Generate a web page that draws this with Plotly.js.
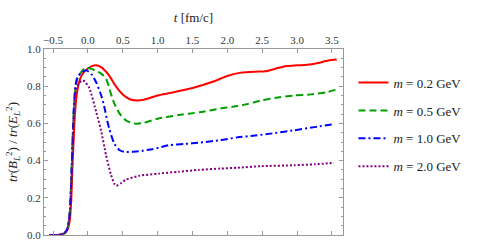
<!DOCTYPE html>
<html>
<head>
<meta charset="utf-8">
<script src="https://cdn.plot.ly/plotly-3.0.1.min.js"></script>
<style>html,body{margin:0;padding:0;background:#fff;}#chart{width:478px;height:252px;}</style>
</head>
<body>
<div id="chart"></div>
<script>
const seriesNames = ["<i>m</i> = 0.2 GeV", "<i>m</i> = 0.5 GeV", "<i>m</i> = 1.0 GeV", "<i>m</i> = 2.0 GeV"];

const tRed = [-0.55,-0.45,-0.38,-0.33,-0.29,-0.26,-0.24,-0.22,-0.2,-0.18,-0.15,-0.1,-0.05,0,0.05,0.12,0.2,0.3,0.4,0.5,0.6,0.7,0.8,1.0,1.2,1.5,1.8,2.0,2.2,2.4,2.55,2.7,2.8,3.0,3.15,3.3,3.45,3.57];
const vRed = [0,0,0.003,0.01,0.03,0.08,0.18,0.38,0.55,0.68,0.78,0.85,0.88,0.895,0.907,0.913,0.9,0.86,0.8,0.755,0.73,0.723,0.727,0.75,0.765,0.79,0.825,0.855,0.873,0.878,0.88,0.895,0.905,0.912,0.915,0.925,0.938,0.943];

const tGreen = [-0.55,-0.45,-0.38,-0.33,-0.29,-0.26,-0.24,-0.22,-0.2,-0.18,-0.15,-0.1,-0.05,0,0.05,0.1,0.2,0.26,0.3,0.35,0.4,0.45,0.55,0.69,0.8,1.0,1.3,1.6,1.9,2.15,2.3,2.5,2.7,2.96,3.2,3.43,3.57];
const vGreen = [0,0,0.003,0.012,0.04,0.12,0.28,0.5,0.68,0.78,0.84,0.875,0.895,0.898,0.893,0.885,0.865,0.84,0.8,0.735,0.69,0.655,0.615,0.598,0.603,0.625,0.645,0.66,0.68,0.693,0.705,0.725,0.738,0.75,0.756,0.768,0.782];

const tBlue = [-0.55,-0.45,-0.38,-0.33,-0.29,-0.26,-0.24,-0.22,-0.2,-0.18,-0.15,-0.1,-0.05,-0.02,0.05,0.12,0.2,0.24,0.28,0.31,0.38,0.45,0.52,0.65,0.73,0.9,1.02,1.16,1.4,1.59,1.9,2.15,2.4,2.62,2.96,3.25,3.5];
const vBlue = [0,0,0.003,0.012,0.04,0.12,0.28,0.5,0.7,0.8,0.85,0.87,0.882,0.885,0.865,0.82,0.74,0.68,0.61,0.567,0.49,0.457,0.447,0.448,0.45,0.46,0.469,0.483,0.49,0.496,0.51,0.525,0.535,0.545,0.563,0.58,0.594];

const tPurple = [-0.55,-0.45,-0.38,-0.33,-0.29,-0.26,-0.24,-0.22,-0.2,-0.18,-0.15,-0.12,-0.08,-0.05,0.02,0.12,0.19,0.26,0.33,0.38,0.41,0.48,0.55,0.73,1.02,1.3,1.59,1.9,2.15,2.49,2.96,3.25,3.53];
const vPurple = [0,0,0.003,0.012,0.04,0.12,0.28,0.5,0.68,0.76,0.8,0.82,0.83,0.827,0.79,0.66,0.56,0.43,0.325,0.275,0.265,0.28,0.298,0.318,0.33,0.34,0.35,0.357,0.362,0.37,0.375,0.38,0.388];

const xTickVals = [-0.5,0,0.5,1,1.5,2,2.5,3,3.5];
const yTickVals = [0,0.2,0.4,0.6,0.8,1.0];

const FONT = '"Liberation Serif", "DejaVu Serif", serif';
const mk = (x, y, name, color, dash, width, g) => ({
  x: x, y: y, name: name, type: 'scatter', mode: 'lines', legendgroup: g,
  line: {color: color, dash: dash, width: width, shape: 'spline', smoothing: 0.6}
});

const traces = [
  mk(tRed, vRed, seriesNames[0], '#ff0000', 'solid', 2, 'a'),
  mk(tGreen, vGreen, seriesNames[1], '#00a000', '7px,4px', 2, 'b'),
  mk(tBlue, vBlue, seriesNames[2], '#0000ff', '7px,3px,2px,3px', 2, 'c'),
  mk(tPurple, vPurple, seriesNames[3], '#800080', '2px,2px', 2, 'd')
];

const layout = {
  width: 478, height: 252,
  margin: {l: 44, r: 132, t: 49, b: 17},
  paper_bgcolor: '#fff', plot_bgcolor: '#fff',
  font: {family: FONT, size: 11, color: '#333'},
  showlegend: true,
  legend: {x: 1.035, y: 0.9, xanchor: 'left', yanchor: 'top', font: {family: FONT, size: 13, color: '#222'},
           tracegroupgap: 8, bgcolor: 'rgba(0,0,0,0)'},
  xaxis: {
    side: 'top', range: [-0.63, 3.66], tickvals: xTickVals, tickformat: '.1f',
    showgrid: false, zeroline: false, showline: true, linecolor: '#999', linewidth: 1, mirror: 'ticks',
    ticks: 'inside', ticklen: 4, tickcolor: '#999',
    tickfont: {family: FONT, size: 11, color: '#333'},
    title: {text: '<i>t</i> [fm/c]', font: {family: FONT, size: 13, color: '#222'}, standoff: 8}
  },
  yaxis: {
    range: [0, 1.0], tickvals: yTickVals, tickformat: '.1f',
    showgrid: false, zeroline: false, showline: true, linecolor: '#999', linewidth: 1, mirror: 'ticks',
    ticks: 'inside', ticklen: 4, tickcolor: '#999',
    minor: {dtick: 0.05, ticks: 'inside', ticklen: 2, tickcolor: '#999'},
    tickfont: {family: FONT, size: 11, color: '#333'},
    title: {text: '<i>tr</i>(<i>B<sub>L</sub></i><sup>2</sup>) / <i>tr</i>(<i>E<sub>L</sub></i><sup>2</sup>)', font: {family: FONT, size: 13, color: '#222'}, standoff: 6}
  }
};

Plotly.newPlot('chart', traces, layout, {displayModeBar: false, staticPlot: true});
</script>
</body>
</html>
